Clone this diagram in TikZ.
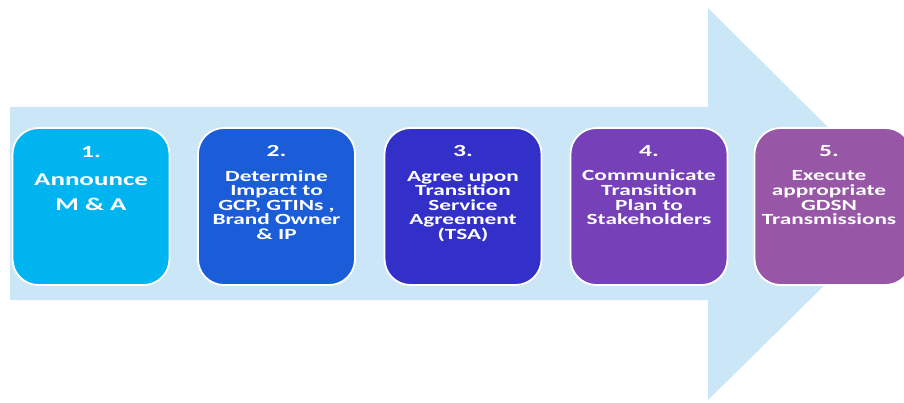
\documentclass[tikz,border=0pt]{standalone}
\usepackage{fontspec}
\newfontfamily\stepfont[FakeStretch=1.5]{Carlito}
\usetikzlibrary{positioning}

\definecolor{arrowblue}{RGB}{203,230,247}
\definecolor{stepA}{RGB}{0,180,240}
\definecolor{stepB}{RGB}{27,93,216}
\definecolor{stepC}{RGB}{50,48,200}
\definecolor{stepD}{RGB}{118,64,184}
\definecolor{stepE}{RGB}{152,86,166}

\begin{document}
\begin{tikzpicture}[
  x=1pt, y=-1pt,
  stepbox/.style={draw=white, line width=1.8pt, rounded corners=26pt,
                  minimum width=157pt, minimum height=157pt, inner sep=0pt},
  steptxt/.style={text=white, align=center, inner sep=0pt, anchor=north,
                  font=\stepfont\bfseries\fontsize{15.5}{14.6}\selectfont},
  bigtxt/.style={steptxt, font=\stepfont\bfseries\fontsize{18}{25}\selectfont},
]
\useasboundingbox (0,0) rectangle (904,403);
% big arrow behind the steps
\fill[arrowblue] (10,107) -- (708,107) -- (708,8) -- (906,205)
  -- (708,400) -- (708,300) -- (10,300) -- cycle;
% step boxes
\node[stepbox, fill=stepA] (box1) at (91,206.5) {};
\node[stepbox, fill=stepB] (box2) at (276.5,206.5) {};
\node[stepbox, fill=stepC] (box3) at (463,206.5) {};
\node[stepbox, fill=stepD] (box4) at (649,206.5) {};
\node[stepbox, fill=stepE] (box5) at (833,206.5) {};
% step texts
\node[bigtxt] (txt1) at ([yshift=-19pt]box1.north)
  {{\fontsize{17}{25}\selectfont 1.}\\[3pt]Announce\\M \& A};
\node[steptxt] (txt2) at ([yshift=-18pt]box2.north)
  {{\fontsize{17}{14.6}\selectfont 2.}\\[10pt]Determine\\Impact to\\GCP, GTINs ,\\Brand Owner\\\& IP};
\node[steptxt] (txt3) at ([yshift=-18pt]box3.north)
  {{\fontsize{17}{14.6}\selectfont 3.}\\[10pt]Agree upon\\Transition\\Service\\Agreement\\(TSA)};
\node[steptxt] (txt4) at ([yshift=-18pt]box4.north)
  {{\fontsize{17}{14.6}\selectfont 4.}\\[10pt]Communicate\\Transition\\Plan to\\Stakeholders};
\node[steptxt] (txt5) at ([yshift=-18pt,xshift=-4pt]box5.north)
  {{\fontsize{17}{14.6}\selectfont 5.}\\[10pt]Execute\\appropriate\\GDSN\\Transmissions};
\end{tikzpicture}
\end{document}
